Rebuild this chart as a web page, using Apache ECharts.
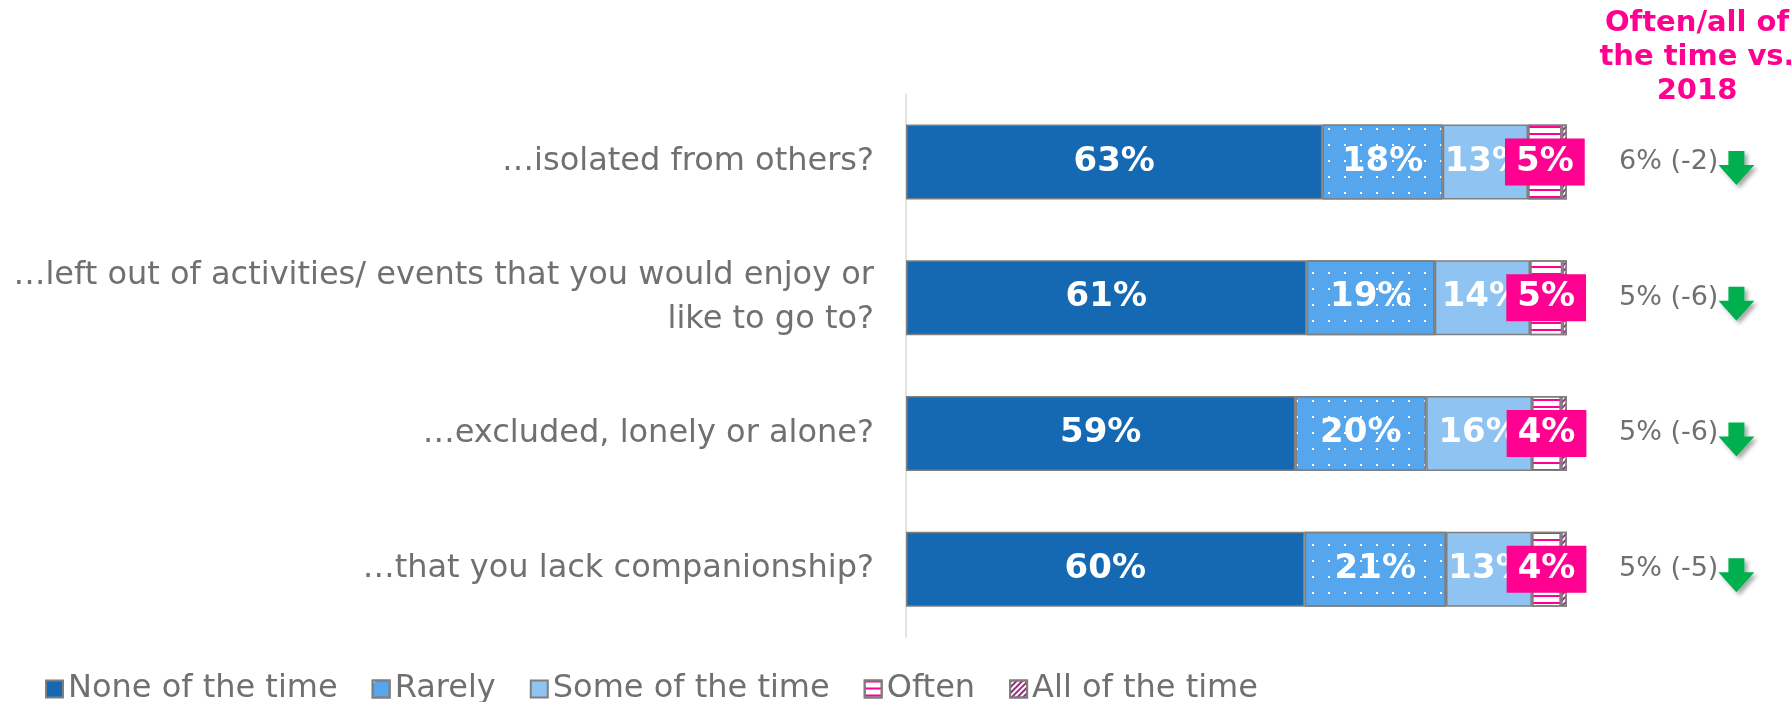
<!DOCTYPE html>
<html><head><meta charset="utf-8">
<script src="https://cdn.jsdelivr.net/npm/echarts@6/dist/echarts.min.js"></script>
<style>html,body{margin:0;padding:0;background:#fff}#c{width:1791px;height:702px}</style>
</head><body><div id="c"></div>
<script>
const categories = ['…isolated from others?', '…left out of activities/ events that you would enjoy or\nlike to go to?', '…excluded, lonely or alone?', '…that you lack companionship?'];
const seriesNames = ['None of the time', 'Rarely', 'Some of the time', 'Often', 'All of the time'];
const noneVals = [63.0, 60.6, 58.9, 60.3];
const rarelyVals = [18.2, 19.4, 19.8, 21.4];
const someVals = [12.9, 14.4, 16.0, 13.0];
const oftenVals = [5.1, 4.9, 4.4, 4.4];
const allVals = [0.8, 0.7, 0.9, 0.9];
const oftenAllTotal = [6, 5, 5, 5];
const changeVs2018 = [-2, -6, -6, -5];
const headerText = 'Often/all of\nthe time vs.\n2018';

const FONT = 'DejaVu Sans';
const GRAY = '#707070';
const PINK = '#ff0090';
const BORDER = '#7f7f7f';

const arrowSvg = '<svg xmlns="http://www.w3.org/2000/svg" width="46" height="64" viewBox="0 0 46 64"><defs><filter id="s" x="-30%" y="-30%" width="170%" height="170%"><feDropShadow dx="3" dy="3" stdDeviation="2.2" flood-color="#000" flood-opacity="0.35"/></filter></defs><path transform="translate(0,20)" d="M10 1 H26 V15 H36 L18 35 L0 15 H10 Z" fill="#00b050" filter="url(#s)"/></svg>';
const arrowUrl = 'data:image/svg+xml;charset=utf-8,' + encodeURIComponent(arrowSvg);

const chart = echarts.init(document.getElementById('c'));
const pct = p => Math.round(p.value) + '%';
const barLabel = {show: true, position: 'inside', color: '#fff', fontFamily: FONT, fontWeight: 'bold', fontSize: 34, formatter: pct};
const base = {type: 'bar', stack: 'all', barWidth: 75};

chart.setOption({
  animation: false,
  grid: {left: 906, right: 224, top: 94, bottom: 65, containLabel: false},
  xAxis: {type: 'value', min: 0, max: 100, show: false},
  yAxis: {type: 'category', inverse: true, data: categories,
    axisLine: {show: true, lineStyle: {color: '#d9d9d9', width: 1.5}},
    axisTick: {show: false},
    axisLabel: {color: GRAY, fontFamily: FONT, fontSize: 32, margin: 32, align: 'right', lineHeight: 44, padding: [6, 0, 0, 0]}},
  legend: {left: 40, bottom: -8, itemWidth: 17, itemHeight: 17, itemGap: 34,
    textStyle: {color: GRAY, fontFamily: FONT, fontSize: 32},
    data: seriesNames.map(n => ({name: n, icon: 'rect'}))},
  graphic: [{type: 'text', x: 1697, y: 6, style: {text: headerText, fill: PINK, font: 'bold 29px "DejaVu Sans"', align: 'center', lineHeight: 34}}],
  series: [
    Object.assign({}, base, {name: seriesNames[0], data: noneVals, itemStyle: {color: '#1569b3', borderColor: BORDER, borderWidth: 1.5}, label: barLabel}),
    Object.assign({}, base, {name: seriesNames[1], data: rarelyVals,
      itemStyle: {color: '#55a6ec', borderColor: BORDER, borderWidth: 1.5,
        decal: {symbol: 'rect', symbolSize: 1, color: '#ffffff', dashArrayX: [2, 14], dashArrayY: [2, 14], rotation: 0}},
      label: barLabel}),
    Object.assign({}, base, {name: seriesNames[2], data: someVals, itemStyle: {color: '#8fc3f2', borderColor: BORDER, borderWidth: 1.5}, label: barLabel}),
    Object.assign({}, base, {name: seriesNames[3], data: oftenVals,
      itemStyle: {color: '#ffffff', borderColor: BORDER, borderWidth: 1.5,
        decal: {symbol: 'rect', symbolSize: 1, color: PINK, dashArrayX: [1, 0], dashArrayY: [2, 5], rotation: 0}},
      label: Object.assign({}, barLabel, {backgroundColor: PINK, padding: [7, 11, 6, 11], lineHeight: 34})}),
    Object.assign({}, base, {name: seriesNames[4], data: allVals,
      itemStyle: {color: '#ffffff', borderColor: BORDER, borderWidth: 1.5,
        decal: {symbol: 'rect', symbolSize: 1, color: '#9b2c80', dashArrayX: [1, 0], dashArrayY: [2, 2], rotation: -Math.PI / 4}},
      label: {show: true, position: 'right', distance: 52,
        formatter: p => '{t|' + oftenAllTotal[p.dataIndex] + '% (' + changeVs2018[p.dataIndex] + ')}{a|}',
        rich: {t: {color: GRAY, fontFamily: FONT, fontSize: 27},
               a: {width: 46, height: 64, backgroundColor: {image: arrowUrl}}}}})
  ]
});
</script></body></html>
